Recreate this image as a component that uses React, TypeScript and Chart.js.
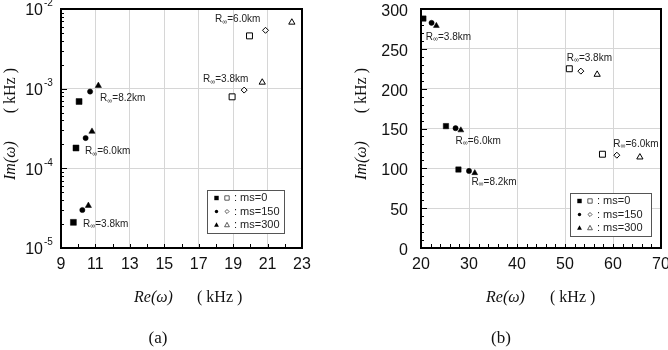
import React, { useEffect, useRef } from 'react';
import { Chart, registerables } from 'chart.js';

Chart.register(...registerables);

// ---------------- Panel (a) data ----------------
const aXTicks = [9, 11, 13, 15, 17, 19, 21, 23];
const aYDecades = [1e-5, 1e-4, 1e-3, 1e-2];
const aYExponents = ['-5', '-4', '-3', '-2'];

const aMs0FilledX = [10.05, 9.87, 9.72];
const aMs0FilledY = [6.9e-4, 1.8e-4, 2.1e-5];
const aMs150FilledX = [10.69, 10.43, 10.24];
const aMs150FilledY = [9.2e-4, 2.4e-4, 3.0e-5];
const aMs300FilledX = [11.17, 10.8, 10.59];
const aMs300FilledY = [1.09e-3, 2.9e-4, 3.4e-5];
const aMs0OpenX = [19.95, 18.94];
const aMs0OpenY = [4.6e-3, 7.9e-4];
const aMs150OpenX = [20.88, 19.64];
const aMs150OpenY = [5.4e-3, 9.6e-4];
const aMs300OpenX = [22.41, 20.69];
const aMs300OpenY = [6.8e-3, 1.2e-3];

const aNoteText = ['6.0', '3.8', '8.2', '6.0', '3.8'];
const aNoteX = [17.95, 17.25, 11.27, 10.39, 10.28];
const aNoteY = [7.35e-3, 1.3e-3, 7.5e-4, 1.62e-4, 1.99e-5];

// ---------------- Panel (b) data ----------------
const bXTicks = [20, 30, 40, 50, 60, 70];
const bYTicks = [0, 50, 100, 150, 200, 250, 300];

const bMs0FilledX = [20.5, 25.2, 27.8];
const bMs0FilledY = [288, 153, 98.5];
const bMs150FilledX = [22.2, 27.2, 30.0];
const bMs150FilledY = [282.6, 150.4, 96.7];
const bMs300FilledX = [23.2, 28.3, 31.2];
const bMs300FilledY = [279, 147.9, 94.2];
const bMs0OpenX = [50.9, 57.8];
const bMs0OpenY = [225, 117.7];
const bMs150OpenX = [53.3, 60.8];
const bMs150OpenY = [222, 116.5];
const bMs300OpenX = [56.7, 65.6];
const bMs300OpenY = [217.8, 114];

const bNoteText = ['3.8', '3.8', '6.0', '6.0', '8.2'];
const bNoteX = [21.0, 50.35, 27.2, 60.06, 30.5];
const bNoteY = [265, 238, 134.5, 130.4, 82.2];

const legendLabels = [': ms=0', ': ms=150', ': ms=300'];

const SANS = "'Liberation Sans', Arial, sans-serif";
const SERIF = "'Liberation Serif', 'Times New Roman', serif";
const GRID = '#d6d6d6';
const INK = '#111';

type Marker = 'rect' | 'circle' | 'triangle' | 'rectRot';

function pts(xs: number[], ys: number[]) {
  return xs.map((x, i) => ({ x, y: ys[i] }));
}

function ds(xs: number[], ys: number[], style: Marker, filled: boolean, radius: number) {
  return {
    data: pts(xs, ys),
    pointStyle: style,
    pointRadius: radius,
    pointBorderWidth: filled ? 0.5 : 1,
    backgroundColor: filled ? '#000' : '#fff',
    borderColor: '#000',
    pointBackgroundColor: filled ? '#000' : '#fff',
    pointBorderColor: '#000',
    showLine: false,
  };
}

function drawMarker(ctx: CanvasRenderingContext2D, style: Marker, filled: boolean, x: number, y: number, s: number) {
  ctx.beginPath();
  if (style === 'rect') {
    ctx.rect(x - s, y - s, 2 * s, 2 * s);
  } else if (style === 'circle') {
    ctx.arc(x, y, s, 0, Math.PI * 2);
  } else if (style === 'triangle') {
    ctx.moveTo(x, y - s * 1.2);
    ctx.lineTo(x + s * 1.1, y + s * 0.8);
    ctx.lineTo(x - s * 1.1, y + s * 0.8);
    ctx.closePath();
  } else {
    ctx.moveTo(x, y - s * 1.2);
    ctx.lineTo(x + s * 1.2, y);
    ctx.lineTo(x, y + s * 1.2);
    ctx.lineTo(x - s * 1.2, y);
    ctx.closePath();
  }
  if (filled) {
    ctx.fillStyle = '#000';
    ctx.fill();
  } else {
    ctx.fillStyle = '#fff';
    ctx.fill();
    ctx.strokeStyle = '#333';
    ctx.lineWidth = 0.8;
    ctx.stroke();
  }
}

interface Deco {
  yMajor: number[];
  yMinor: number[];
  xMinor: number[];
  logLabels: boolean;
  noteText: string[];
  noteX: number[];
  noteY: number[];
  legend: { x: number; y: number; w: number; h: number };
  legendOpen: Marker[];
  reX: number;
  kHzX: number;
  yTitleX: number;
  caption: string;
  captionX: number;
}

function makePlugin(d: Deco) {
  return {
    id: 'deco',
    beforeDatasetsDraw(chart: any) {
      const { ctx, chartArea: ca, scales } = chart;
      const xs = scales.x;
      const ys = scales.y;
      ctx.save();
      ctx.strokeStyle = '#000';
      ctx.lineWidth = 1;
      ctx.beginPath();
      for (const v of d.yMinor) {
        const y = Math.round(ys.getPixelForValue(v)) + 0.5;
        ctx.moveTo(ca.left, y);
        ctx.lineTo(ca.left + 3, y);
      }
      for (const v of d.yMajor) {
        const y = Math.round(ys.getPixelForValue(v)) + 0.5;
        ctx.moveTo(ca.left, y);
        ctx.lineTo(ca.left + 6, y);
      }
      for (const v of d.xMinor) {
        const x = Math.round(xs.getPixelForValue(v)) + 0.5;
        ctx.moveTo(x, ca.bottom);
        ctx.lineTo(x, ca.bottom - 4);
      }
      ctx.stroke();
      ctx.lineWidth = 2;
      ctx.strokeRect(ca.left, ca.top, ca.right - ca.left, ca.bottom - ca.top);

      // log axis labels with superscripts
      if (d.logLabels) {
        ctx.fillStyle = INK;
        aYDecades.forEach((v, i) => {
          const y = ys.getPixelForValue(v);
          ctx.font = `16px ${SANS}`;
          ctx.textAlign = 'right';
          ctx.textBaseline = 'middle';
          ctx.fillText('10', ca.left - 18, y + 2);
          ctx.font = `10px ${SANS}`;
          ctx.textAlign = 'left';
          ctx.fillText(aYExponents[i], ca.left - 17, y - 5.5);
        });
      }
      ctx.restore();
    },
    afterDatasetsDraw(chart: any) {
      const { ctx, scales } = chart;
      const xs = scales.x;
      const ys = scales.y;
      ctx.save();
      // annotations
      ctx.fillStyle = '#222';
      ctx.textBaseline = 'middle';
      ctx.textAlign = 'left';
      d.noteText.forEach((t, i) => {
        let x = xs.getPixelForValue(d.noteX[i]);
        const y = ys.getPixelForValue(d.noteY[i]);
        ctx.font = `10px ${SANS}`;
        ctx.fillText('R', x, y);
        x += ctx.measureText('R').width;
        ctx.font = `7px ${SANS}`;
        ctx.fillText('\u221e', x, y + 2);
        x += ctx.measureText('\u221e').width;
        ctx.font = `10px ${SANS}`;
        ctx.fillText('=' + t + 'km', x, y);
      });
      // legend
      const L = d.legend;
      ctx.fillStyle = '#fff';
      ctx.fillRect(L.x, L.y, L.w, L.h);
      ctx.strokeStyle = '#555';
      ctx.lineWidth = 1;
      ctx.strokeRect(L.x + 0.5, L.y + 0.5, L.w, L.h);
      const filledStyles: Marker[] = ['rect', 'circle', 'triangle'];
      const sizes = [2.2, 1.7, 2.2];
      const rows = [8, 21.5, 35];
      rows.forEach((ry, i) => {
        const y = L.y + ry;
        drawMarker(ctx, filledStyles[i], true, L.x + 9.5, y, sizes[i]);
        drawMarker(ctx, d.legendOpen[i], false, L.x + 20, y, sizes[i]);
        ctx.fillStyle = '#222';
        ctx.font = `11px ${SANS}`;
        ctx.textAlign = 'left';
        ctx.textBaseline = 'middle';
        ctx.fillText(legendLabels[i], L.x + 27, y);
      });
      ctx.restore();
    },
    afterDraw(chart: any) {
      const { ctx } = chart;
      ctx.save();
      ctx.fillStyle = INK;
      ctx.textBaseline = 'middle';
      // x title
      ctx.textAlign = 'left';
      ctx.font = `italic 16px ${SERIF}`;
      ctx.fillText('Re(\u03c9)', d.reX, 298);
      ctx.font = `16px ${SERIF}`;
      ctx.fillText('( kHz )', d.kHzX, 298);
      // y title
      ctx.translate(d.yTitleX, 124);
      ctx.rotate(-Math.PI / 2);
      ctx.font = `italic 16px ${SERIF}`;
      ctx.textAlign = 'left';
      ctx.fillText('Im(\u03c9)', -56, 0);
      ctx.font = `16px ${SERIF}`;
      ctx.textAlign = 'right';
      ctx.fillText('( kHz )', 56, 0);
      ctx.setTransform(1, 0, 0, 1, 0, 0);
      // caption
      ctx.font = `17px ${SERIF}`;
      ctx.textAlign = 'center';
      ctx.fillText(d.caption, d.captionX, 339);
      ctx.restore();
    },
  };
}

function range(a: number, b: number, step: number) {
  const out: number[] = [];
  for (let v = a; v <= b + 1e-9; v += step) out.push(Math.round(v * 1000) / 1000);
  return out;
}

function configA(): any {
  const yMinor: number[] = [];
  [1e-5, 1e-4, 1e-3].forEach((dec) => {
    for (let m = 2; m <= 9; m++) yMinor.push(m * dec);
  });
  const deco: Deco = {
    yMajor: aYDecades,
    yMinor,
    xMinor: range(10, 22, 1),
    logLabels: true,
    noteText: aNoteText,
    noteX: aNoteX,
    noteY: aNoteY,
    legend: { x: 207, y: 190, w: 77, h: 43 },
    legendOpen: ['rect', 'rectRot', 'triangle'],
    reX: 134,
    kHzX: 197,
    yTitleX: 11,
    caption: '(a)',
    captionX: 158,
  };
  return {
    type: 'scatter',
    data: {
      datasets: [
        ds(aMs0FilledX, aMs0FilledY, 'rect', true, 4.2),
        ds(aMs150FilledX, aMs150FilledY, 'circle', true, 2.6),
        ds(aMs300FilledX, aMs300FilledY, 'triangle', true, 3.6),
        ds(aMs0OpenX, aMs0OpenY, 'rect', false, 4.2),
        ds(aMs150OpenX, aMs150OpenY, 'rectRot', false, 3),
        ds(aMs300OpenX, aMs300OpenY, 'triangle', false, 3.6),
      ],
    },
    options: {
      responsive: false,
      animation: false,
      events: [],
      layout: { padding: { top: 9, right: 32, bottom: 0, left: 0 } },
      plugins: { legend: { display: false }, tooltip: { enabled: false } },
      scales: {
        x: {
          type: 'linear',
          min: aXTicks[0],
          max: aXTicks[aXTicks.length - 1],
          afterBuildTicks: (s: any) => {
            s.ticks = aXTicks.map((v) => ({ value: v }));
          },
          ticks: { font: { family: SANS, size: 16 }, color: INK, padding: 7, maxRotation: 0, autoSkip: false },
          grid: { color: GRID, drawTicks: false, lineWidth: 1 },
          border: { display: false },
          afterFit: (s: any) => {
            s.height = 102;
            s.paddingLeft = 0;
            s.paddingRight = 0;
          },
        },
        y: {
          type: 'logarithmic',
          min: aYDecades[0],
          max: aYDecades[aYDecades.length - 1],
          afterBuildTicks: (s: any) => {
            s.ticks = aYDecades.map((v) => ({ value: v }));
          },
          ticks: { display: false },
          grid: { color: GRID, drawTicks: false, lineWidth: 1 },
          border: { display: false },
          afterFit: (s: any) => {
            s.width = 61;
            s.paddingTop = 0;
            s.paddingBottom = 0;
          },
        },
      },
    },
    plugins: [makePlugin(deco)],
  };
}

function configB(): any {
  const deco: Deco = {
    yMajor: bYTicks,
    yMinor: range(0, 300, 10),
    xMinor: range(20, 70, 2),
    logLabels: false,
    noteText: bNoteText,
    noteX: bNoteX,
    noteY: bNoteY,
    legend: { x: 236, y: 193, w: 81, h: 43 },
    legendOpen: ['rect', 'rectRot', 'triangle'],
    reX: 152,
    kHzX: 216,
    yTitleX: 28,
    caption: '(b)',
    captionX: 167,
  };
  return {
    type: 'scatter',
    data: {
      datasets: [
        ds(bMs0FilledX, bMs0FilledY, 'rect', true, 3.8),
        ds(bMs150FilledX, bMs150FilledY, 'circle', true, 2.6),
        ds(bMs300FilledX, bMs300FilledY, 'triangle', true, 3.4),
        ds(bMs0OpenX, bMs0OpenY, 'rect', false, 4.2),
        ds(bMs150OpenX, bMs150OpenY, 'rectRot', false, 3),
        ds(bMs300OpenX, bMs300OpenY, 'triangle', false, 3.6),
      ],
    },
    options: {
      responsive: false,
      animation: false,
      events: [],
      layout: { padding: { top: 9, right: 7, bottom: 0, left: 0 } },
      plugins: { legend: { display: false }, tooltip: { enabled: false } },
      scales: {
        x: {
          type: 'linear',
          min: bXTicks[0],
          max: bXTicks[bXTicks.length - 1],
          afterBuildTicks: (s: any) => {
            s.ticks = bXTicks.map((v) => ({ value: v }));
          },
          ticks: { font: { family: SANS, size: 16 }, color: INK, padding: 7, maxRotation: 0, autoSkip: false },
          grid: { color: GRID, drawTicks: false, lineWidth: 1 },
          border: { display: false },
          afterFit: (s: any) => {
            s.height = 102;
            s.paddingLeft = 0;
            s.paddingRight = 0;
          },
        },
        y: {
          type: 'linear',
          min: bYTicks[0],
          max: bYTicks[bYTicks.length - 1],
          afterBuildTicks: (s: any) => {
            s.ticks = bYTicks.map((v) => ({ value: v }));
          },
          ticks: { font: { family: SANS, size: 16 }, color: INK, padding: 13, labelOffset: 2.5 },
          grid: { color: GRID, drawTicks: false, lineWidth: 1 },
          border: { display: false },
          afterFit: (s: any) => {
            s.width = 87;
            s.paddingTop = 0;
            s.paddingBottom = 0;
          },
        },
      },
    },
    plugins: [makePlugin(deco)],
  };
}

function ChartCanvas({ make, left }: { make: () => any; left: number }) {
  const ref = useRef<HTMLCanvasElement | null>(null);
  useEffect(() => {
    if (!ref.current) return;
    const chart = new Chart(ref.current, make());
    return () => chart.destroy();
  }, [make]);
  return (
    <canvas
      ref={ref}
      width={334}
      height={350}
      style={{ position: 'absolute', left, top: 0, width: 334, height: 350 }}
    />
  );
}

export default function App() {
  return (
    <div style={{ position: 'absolute', left: 0, top: 0, width: 668, height: 350, background: '#fff', overflow: 'hidden' }}>
      <ChartCanvas make={configA} left={0} />
      <ChartCanvas make={configB} left={334} />
    </div>
  );
}
